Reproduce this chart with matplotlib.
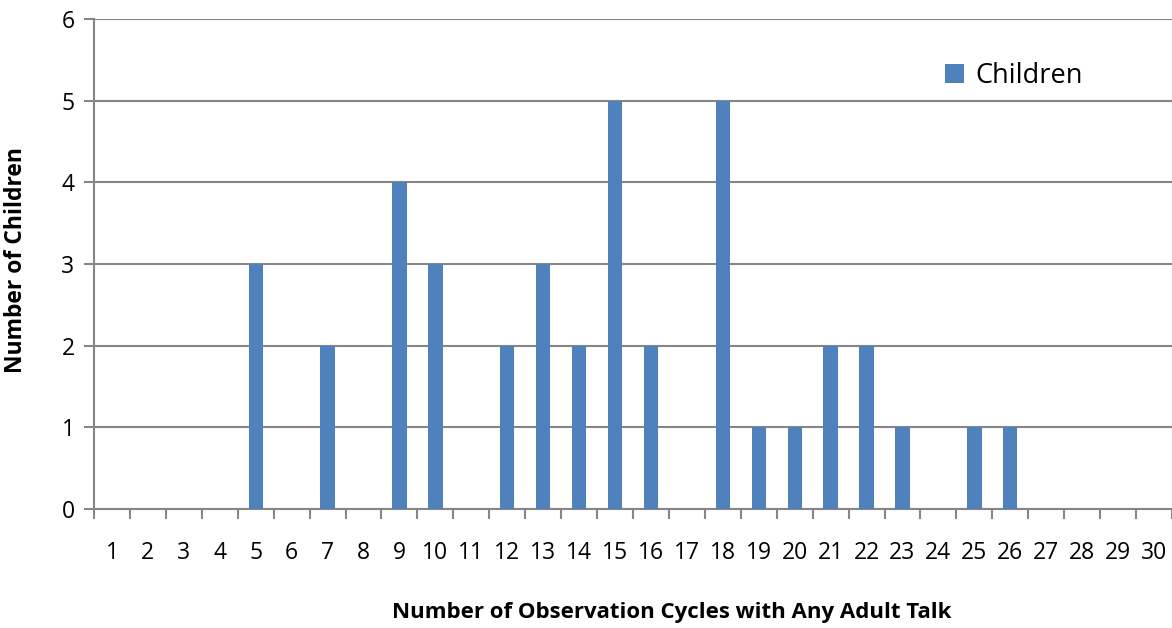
import matplotlib.pyplot as plt
import numpy as np

plt.rcParams['font.family'] = ['Open Sans', 'DejaVu Sans']

cycles = list(range(1, 31))
children = [0, 0, 0, 0, 3, 0, 2, 0, 4, 3,
            0, 2, 3, 2, 5, 2, 0, 5, 1, 1,
            2, 2, 1, 0, 1, 1, 0, 0, 0, 0]
y_ticks = [0, 1, 2, 3, 4, 5, 6]

bar_color = '#4F81BD'
grid_color = '#868686'

fig = plt.figure(figsize=(11.72, 6.28), dpi=100)
ax = fig.add_axes([94 / 1172, 1 - 509 / 628, 1 - 94 / 1172, (509 - 19) / 628])

x = np.array(cycles)
ax.bar(x, children, width=0.4, color=bar_color, label='Children', zorder=3)

ax.set_xlim(0.5, 30.5)
ax.set_ylim(0, 6)

# horizontal gridlines
ax.set_yticks(y_ticks)
ax.yaxis.grid(True, color=grid_color, linewidth=1.5, zorder=0)
ax.tick_params(axis='y', length=7, width=1.5, color=grid_color, labelsize=16.5, pad=7)

# category labels centred, tick marks on category boundaries
ax.set_xticks(x)
ax.set_xticklabels([str(c) for c in cycles])
ax.set_xticks(np.arange(0.5, 31, 1), minor=True)
ax.tick_params(axis='x', which='major', length=0, labelsize=16.5, pad=23)
ax.tick_params(axis='x', which='minor', length=7, width=1.5, color=grid_color)

for side in ['top', 'right']:
    ax.spines[side].set_visible(False)
for side in ['left', 'bottom']:
    ax.spines[side].set_color(grid_color)
    ax.spines[side].set_linewidth(1.5)

ax.set_xlabel('Number of Observation Cycles with Any Adult Talk',
              fontsize=16, fontweight='bold')
ax.set_ylabel('Number of Children', fontsize=16.5, fontweight='bold')
# axis titles sit a little off the axes centre
ax.xaxis.set_label_coords(0.536, -0.19)
ax.yaxis.set_label_coords(-0.061, 0.508)

ax.legend(loc='upper left', bbox_to_anchor=(0.767, 0.962), frameon=False,
          fontsize=19.5, handlelength=0.7, handleheight=0.7, handletextpad=0.4)

fig.savefig('out.png', dpi=100)
